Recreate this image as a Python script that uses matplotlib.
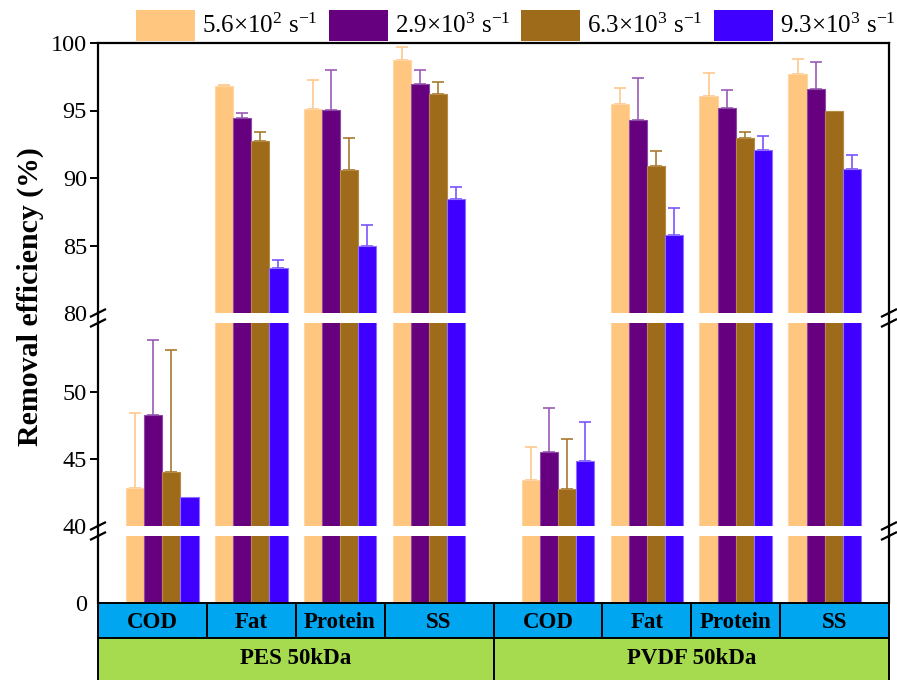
import numpy as np
import matplotlib
matplotlib.use("Agg")
import matplotlib.pyplot as plt
from matplotlib.patches import Rectangle
from matplotlib.lines import Line2D

plt.rcParams['font.family'] = ['Liberation Serif', 'DejaVu Serif']
plt.rcParams['mathtext.fontset'] = 'custom'
plt.rcParams['mathtext.rm'] = 'Liberation Serif'
plt.rcParams['mathtext.it'] = 'Liberation Serif:italic'
plt.rcParams['mathtext.bf'] = 'Liberation Serif:bold'

# ---- data -------------------------------------------------------------
membranes = ["PES 50kDa", "PVDF 50kDa"]
indicators = ["COD", "Fat", "Protein", "SS"]
shear_labels = [r"5.6×10$^{2}$ s$^{\mathrm{-1}}$", r"2.9×10$^{3}$ s$^{\mathrm{-1}}$",
                r"6.3×10$^{3}$ s$^{\mathrm{-1}}$", r"9.3×10$^{3}$ s$^{\mathrm{-1}}$"]
bar_colors = ["#FFC680", "#66007F", "#9E6B1A", "#4000FF"]
edge_colors = ["#FFD7A6", "#8A4AA6", "#B58A45", "#8C70FF"]
err_colors = ["#FFC88C", "#9A5AB5", "#A87A30", "#7A55FF"]

# order: PES COD, Fat, Protein, SS, PVDF COD, Fat, Protein, SS
removal_560 = [42.83, 96.80, 95.12, 98.73, 43.45, 95.50, 96.07, 97.73]
removal_2900 = [48.33, 94.45, 95.05, 96.99, 45.53, 94.30, 95.17, 96.62]
removal_6300 = [44.05, 92.71, 90.62, 96.24, 42.78, 90.92, 92.99, 94.95]
removal_9300 = [42.20, 83.30, 85.00, 88.41, 44.85, 85.75, 92.11, 90.70]

sd_560 = [5.62, 0.09, 2.14, 1.00, 2.45, 1.19, 1.73, 1.05]
sd_2900 = [5.62, 0.35, 2.93, 1.00, 3.32, 3.14, 1.37, 1.94]
sd_6300 = [9.10, 0.67, 2.31, 0.88, 3.72, 1.09, 0.39, 0.00]
sd_9300 = [0.00, 0.60, 1.54, 0.92, 2.93, 2.04, 1.02, 1.02]

series = [removal_560, removal_2900, removal_6300, removal_9300]
errors = [sd_560, sd_2900, sd_6300, sd_9300]

# ---- layout -----------------------------------------------------------
W, H = 897, 680
fig = plt.figure(figsize=(W / 100, H / 100), dpi=100)
fig.patch.set_facecolor("white")


def fx(px):
    return px / W


def fy(py):
    return 1 - py / H


x_left, x_right = 98, 889
group_gap = 4.45
xpos = np.concatenate([np.arange(4), np.arange(4) + group_gap])
xlim = (-0.72, xpos[-1] + 0.72)
bar_w = 0.205

segments = [  # (top px, bottom px, ylim, ticks)
    (43, 313, (80, 100), [80, 85, 90, 95, 100]),
    (323, 526, (40, 55.2), [40, 45, 50]),
    (536, 603, (0, 40), [0]),
]

axes = []
for i, (ptop, pbot, ylim, ticks) in enumerate(segments):
    ax = fig.add_axes([fx(x_left), fy(pbot), fx(x_right) - fx(x_left),
                       fy(ptop) - fy(pbot)])
    ax.set_facecolor("none")
    for k, (vals, errs) in enumerate(zip(series, errors)):
        xs = xpos + (k - 1.5) * bar_w
        ax.bar(xs, vals, width=bar_w, color=bar_colors[k],
               edgecolor=edge_colors[k], linewidth=0.8, zorder=2)
        vals = np.asarray(vals)
        errs = np.asarray(errs)
        m = errs > 0
        ax.errorbar(xs[m], vals[m], yerr=[np.zeros(m.sum()), errs[m]],
                    fmt="none", ecolor=err_colors[k], elinewidth=1.2,
                    capsize=4, capthick=1.2, zorder=1)
    ax.set_xlim(*xlim)
    ax.set_ylim(*ylim)
    ax.set_xticks([])
    ax.set_yticks(ticks)
    ax.set_yticklabels([str(t) for t in ticks])
    ax.tick_params(axis="y", direction="out", length=6, width=1.4,
                   labelsize=17.5, pad=2)
    # break points carry a break mark instead of a tick
    ax.yaxis.get_major_ticks()[0].tick1line.set_visible(False)
    for s in ["left", "right", "top", "bottom"]:
        ax.spines[s].set_linewidth(1.6)
    ax.spines["bottom"].set_visible(False)
    if i > 0:
        ax.spines["top"].set_visible(False)
    axes.append(ax)

# spine continuation through the gaps and break marks
for gap_top, gap_bot in [(313, 323), (526, 536)]:
    for xp in (x_left, x_right):
        fig.add_artist(Line2D([fx(xp), fx(xp)], [fy(gap_top), fy(gap_bot)],
                              color="black", lw=1.6))
        for yp in (gap_top, gap_bot):
            fig.add_artist(Line2D([fx(xp - 7), fx(xp + 7)],
                                  [fy(yp + 3.5), fy(yp - 3.5)],
                                  color="black", lw=1.6))

# y label
fig.text(fx(30), fy(297), "Removal efficiency (%)", rotation=90,
         ha="center", va="center", fontsize=21.5, fontweight="bold")

# ---- category table below the axes -------------------------------------
tab = fig.add_axes([fx(x_left), 0, fx(x_right) - fx(x_left), fy(603)])
tab.set_xlim(*xlim)
tab.set_ylim(0, 1)
tab.axis("off")
split = 0.55
bounds = np.concatenate([[xlim[0]], (xpos[:-1] + xpos[1:]) / 2, [xlim[1]]])
for j, name in enumerate(indicators * 2):
    x0, x1 = bounds[j], bounds[j + 1]
    tab.add_patch(Rectangle((x0, split), x1 - x0, 1 - split,
                            facecolor="#00A6F0", edgecolor="black",
                            lw=1.4, clip_on=False))
    tab.text((x0 + x1) / 2, (split + 1) / 2 - 0.03, name, ha="center",
             va="center", fontsize=16.5, fontweight="bold")
gb = [bounds[0], bounds[4], bounds[-1]]
for j, name in enumerate(membranes):
    x0, x1 = gb[j], gb[j + 1]
    tab.add_patch(Rectangle((x0, -0.05), x1 - x0, split + 0.05,
                            facecolor="#A6DB50", edgecolor="black",
                            lw=1.4, clip_on=False))
    tab.text((x0 + x1) / 2, split / 2, name, ha="center", va="center",
             fontsize=16.5, fontweight="bold")

# ---- legend across the top ---------------------------------------------
patch_x = [136, 329, 521, 714]
for k, label in enumerate(shear_labels):
    fig.add_artist(Rectangle((fx(patch_x[k]), fy(41)), fx(59), 31 / H,
                             facecolor=bar_colors[k], edgecolor="none",
                             transform=fig.transFigure))
    fig.text(fx(patch_x[k] + 66), fy(26), label, ha="left", va="center",
             fontsize=18)

fig.savefig("out.png", dpi=100, facecolor="white")
